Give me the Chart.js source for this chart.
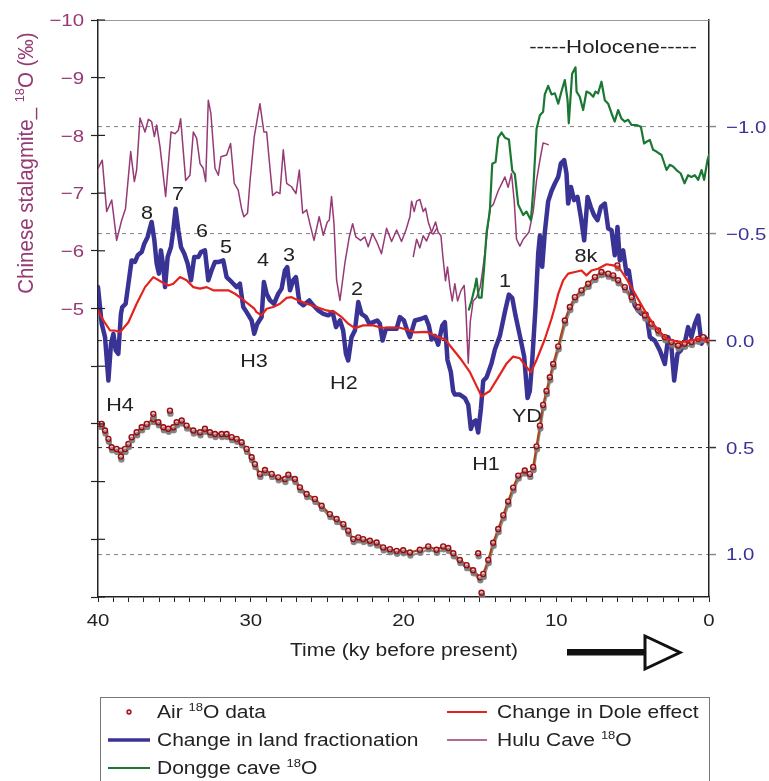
<!DOCTYPE html>
<html>
<head>
<meta charset="utf-8">
<script src="https://cdn.jsdelivr.net/npm/chart.js@4"></script>
<style>
  html, body { margin: 0; padding: 0; background: #fff; }
  #chart { display: block; }
</style>
</head>
<body>
<canvas id="chart" width="769" height="781"></canvas>
<script>
// ---- data (ky before present, per-mil) ----
const huluAge = [40.0, 39.72, 39.43, 39.1, 38.78, 38.45, 38.2, 37.86, 37.62, 37.47, 37.25, 36.92, 36.7, 36.49, 36.31, 36.16,
  35.94, 35.57, 35.22, 34.96, 34.74, 34.59, 34.26, 33.98, 33.76, 33.54, 33.32, 33.11, 32.95, 32.78, 32.61, 32.34, 32.12,
  31.95, 31.58, 31.32, 31.08, 30.82, 30.6, 30.45, 30.21, 30.05, 29.77, 29.4, 29.14, 28.96, 28.79, 28.57, 28.31, 28.09,
  27.87, 27.65, 27.33, 27.04, 26.82, 26.6, 26.34, 26.13, 25.86, 25.52, 25.25, 24.99, 24.86, 24.71, 24.55, 24.38, 24.16,
  23.84, 23.55, 23.33, 23.12, 22.81, 22.53, 22.31, 22.03, 21.76, 21.44, 21.11, 20.78, 20.45, 20.13, 19.84, 19.58, 19.47,
  19.3, 19.14, 18.93, 18.71, 18.56, 18.38, 18.16, 17.9, 17.73, 17.55, 17.4, 17.25, 17.12, 16.96, 16.81, 16.64, 16.46,
  16.24, 16.03, 15.92, 15.76, 15.63, 15.44, 15.22, 14.98, 14.85, 14.67, 14.35, 14.13, 13.8, 13.58, 13.36, 13.15, 12.93,
  12.75, 12.6, 12.38, 12.16, 11.79, 11.51, 11.29, 11.07, 10.86, 10.53];
const huluD18O = [-7.43, -7.57, -6.68, -6.88, -6.18, -6.53, -6.73, -7.72, -7.2, -7.4, -8.3, -8.06, -8.28, -8.24, -7.98, -8.18,
  -7.8, -6.94, -8.06, -8.03, -8.09, -8.29, -7.22, -7.31, -8.06, -7.95, -7.51, -7.43, -7.2, -8.61, -8.38, -7.43, -7.31,
  -7.63, -7.66, -7.86, -7.17, -7.05, -6.73, -6.59, -6.65, -7.2, -7.98, -8.55, -8.06, -8.06, -7.57, -6.96, -7.02, -6.99,
  -7.75, -7.17, -7.11, -6.99, -7.4, -6.65, -6.71, -6.47, -6.18, -6.59, -6.27, -6.5, -6.53, -6.94, -6.47, -5.49, -5.14,
  -5.78, -6.24, -6.47, -6.24, -6.18, -6.24, -6.07, -6.3, -6.16, -5.95, -6.39, -6.16, -6.36, -6.16, -6.36, -6.59, -6.86,
  -6.68, -6.86, -6.89, -6.68, -6.74, -6.5, -6.32, -6.5, -6.32, -6.26, -5.84, -5.48, -5.72, -5.37, -5.13, -5.43, -5.13,
  -5.31, -5.4, -5.01, -4.05, -4.77, -5.13, -5.19, -5.37, -5.6, -5.96, -6.74, -6.8, -7.04, -7.16, -7.28, -7.1, -7.34,
  -6.86, -6.2, -6.08, -6.2, -6.32, -6.68, -7.22, -7.57, -7.87, -7.84];
const huluAgeB = [19.36, 19.14, 18.93, 18.71, 18.49, 18.27, 18.05, 17.84];
const huluD18OB = [-5.9, -6.2, -6.05, -6.26, -6.17, -6.32, -6.29, -6.38];

const donggeAge = [15.72, 15.55, 15.33, 15.22, 15.07, 14.89, 14.72, 14.56, 14.35, 14.19, 13.97, 13.8, 13.58, 13.36, 13.1,
  12.88, 12.71, 12.49, 12.16, 11.95, 11.66, 11.51, 11.29, 11.07, 10.86, 10.75, 10.53, 10.31, 10.09, 9.87, 9.66, 9.44,
  9.26, 9.18, 8.96, 8.74, 8.67, 8.46, 8.24, 8.02, 7.8, 7.58, 7.43, 7.26, 7.04, 6.82, 6.6, 6.38, 6.17, 5.95, 5.73, 5.51,
  5.29, 5.07, 4.75, 4.46, 4.25, 4.09, 3.87, 3.66, 3.44, 3.11, 2.78, 2.57, 2.35, 2.13, 1.85, 1.6, 1.37, 1.15, 0.93, 0.71,
  0.49, 0.32, 0.1, 0.0];
const donggeD18O = [-4.98, -5.13, -5.37, -5.52, -5.19, -5.19, -5.72, -6.32, -6.68, -7.51, -7.54, -7.96, -8.05, -7.96, -7.93,
  -7.39, -7.33, -6.8, -6.62, -6.68, -6.53, -7.04, -8.11, -8.35, -8.41, -8.71, -8.86, -8.71, -8.73, -8.55, -8.76, -8.96,
  -8.61, -8.21, -9.07, -9.18, -8.76, -8.67, -8.44, -8.76, -8.73, -8.67, -8.76, -8.73, -8.93, -8.61, -8.55, -8.38, -8.24,
  -8.44, -8.29, -8.24, -8.27, -8.18, -8.18, -8.15, -7.86, -7.89, -7.92, -7.75, -7.72, -7.66, -7.4, -7.49, -7.46, -7.4,
  -7.34, -7.17, -7.31, -7.28, -7.31, -7.23, -7.4, -7.23, -7.57, -7.66];

const landAge = [40.0, 39.76, 39.54, 39.32, 39.15, 38.99, 38.84, 38.67, 38.5, 38.41, 38.19, 38.01, 37.8, 37.58, 37.4, 37.14,
  36.97, 36.75, 36.64, 36.49, 36.31, 36.16, 36.01, 35.88, 35.72, 35.61, 35.44, 35.22, 35.07, 34.92, 34.74, 34.57, 34.35,
  34.13, 33.91, 33.7, 33.43, 33.26, 33.0, 32.78, 32.56, 32.34, 32.08, 31.8, 31.58, 31.36, 31.14, 30.92, 30.71, 30.49,
  30.27, 29.94, 29.77, 29.57, 29.29, 29.14, 28.96, 28.74, 28.48, 28.2, 27.98, 27.76, 27.61, 27.43, 27.22, 27.04, 26.82,
  26.56, 26.17, 25.91, 25.58, 25.25, 24.93, 24.64, 24.42, 24.16, 23.95, 23.77, 23.62, 23.4, 23.18, 22.96, 22.75, 22.46,
  22.24, 21.98, 21.72, 21.55, 21.37, 21.15, 20.89, 20.45, 20.24, 19.97, 19.76, 19.58, 19.25, 18.82, 18.56, 18.34, 18.16,
  17.94, 17.73, 17.46, 17.29, 17.12, 16.9, 16.75, 16.64, 16.31, 15.98, 15.76, 15.59, 15.44, 15.28, 15.11, 14.93, 14.78,
  14.56, 14.24, 14.02, 13.69, 13.36, 13.1, 12.88, 12.67, 12.38, 12.1, 11.88, 11.73, 11.57, 11.36, 11.18, 11.07, 10.92,
  10.75, 10.53, 10.31, 10.09, 9.87, 9.7, 9.48, 9.33, 9.22, 9.04, 8.83, 8.61, 8.39, 8.17, 7.95, 7.74, 7.52, 7.3, 7.08,
  6.82, 6.6, 6.38, 6.17, 5.99, 5.84, 5.62, 5.4, 5.25, 5.03, 4.86, 4.64, 4.42, 4.09, 3.87, 3.55, 3.22, 2.89, 2.67, 2.46,
  2.28, 2.06, 1.85, 1.6, 1.37, 1.15, 0.93, 0.71, 0.49, 0.28, 0.1, 0.0];
const landFrac = [-0.25, -0.08, -0.016, 0.187, 0.015, -0.032, 0.046, 0.062, -0.125, -0.157, -0.172, -0.266, -0.375, -0.368,
  -0.399, -0.414, -0.453, -0.485, -0.516, -0.555, -0.469, -0.36, -0.313, -0.422, -0.344, -0.25, -0.391, -0.438, -0.516,
  -0.617, -0.516, -0.438, -0.406, -0.36, -0.282, -0.391, -0.391, -0.414, -0.422, -0.282, -0.329, -0.368, -0.368, -0.375,
  -0.297, -0.282, -0.266, -0.25, -0.266, -0.157, -0.133, -0.094, -0.032, -0.079, -0.11, -0.274, -0.219, -0.188, -0.172,
  -0.219, -0.243, -0.329, -0.344, -0.235, -0.282, -0.297, -0.18, -0.165, -0.188, -0.165, -0.141, -0.125, -0.118, -0.133,
  -0.063, -0.094, -0.047, 0.062, 0.093, -0.016, -0.047, -0.18, -0.125, -0.11, -0.079, -0.086, -0.094, -0.079, 0.0,
  -0.055, -0.055, -0.055, -0.11, -0.094, -0.047, -0.016, -0.094, -0.102, -0.11, -0.07, -0.005, -0.022, 0.019, -0.07,
  -0.086, 0.091, 0.148, 0.236, 0.253, 0.253, 0.269, 0.301, 0.414, 0.382, 0.374, 0.43, 0.317, 0.188, 0.172, 0.107, 0.043,
  -0.022, -0.135, -0.215, -0.199, -0.118, -0.022, 0.075, 0.269, 0.236, 0.091, -0.151, -0.409, -0.49, -0.345, -0.506,
  -0.651, -0.7, -0.735, -0.766, -0.828, -0.844, -0.782, -0.641, -0.719, -0.657, -0.672, -0.578, -0.469, -0.672, -0.625,
  -0.586, -0.563, -0.625, -0.641, -0.524, -0.516, -0.399, -0.531, -0.375, -0.422, -0.313, -0.328, -0.219, -0.164, -0.141,
  -0.125, -0.125, -0.016, 0.0, 0.046, 0.109, -0.016, 0.031, 0.187, 0.062, 0.046, 0.015, -0.063, -0.016, -0.078, -0.117,
  0.015, -0.016, 0.0, -0.008];

const doleAge = [40.0, 39.65, 39.21, 38.89, 38.56, 38.01, 37.47, 36.92, 36.38, 35.83, 35.4, 35.07, 34.63, 34.2, 33.76, 33.32,
  32.89, 32.45, 32.02, 31.47, 31.03, 30.6, 30.16, 29.77, 29.62, 29.29, 28.96, 28.53, 28.09, 27.65, 27.33, 26.89, 26.34,
  25.69, 25.04, 24.49, 24.05, 23.62, 23.18, 22.64, 21.98, 21.44, 20.89, 20.24, 19.58, 19.25, 18.49, 17.94, 17.29, 16.74,
  16.2, 15.65, 15.22, 14.89, 14.35, 13.8, 13.25, 12.82, 12.38, 11.95, 11.66, 11.29, 10.75, 10.31, 10.09, 9.87, 9.55,
  9.22, 8.78, 8.35, 8.02, 7.69, 7.26, 6.71, 6.27, 5.84, 5.4, 4.97, 4.53, 4.09, 3.66, 3.22, 2.78, 2.35, 1.8, 1.26, 0.71, 0.0];
const doleChange = [-0.141, -0.094, -0.047, -0.047, -0.039, -0.086, -0.172, -0.25, -0.297, -0.274, -0.258, -0.266, -0.297,
  -0.282, -0.25, -0.243, -0.25, -0.235, -0.235, -0.235, -0.219, -0.196, -0.172, -0.149, -0.133, -0.118, -0.149, -0.157,
  -0.172, -0.2, -0.203, -0.188, -0.172, -0.157, -0.141, -0.133, -0.11, -0.079, -0.058, -0.071, -0.071, -0.06, -0.06,
  -0.06, -0.047, -0.038, -0.041, -0.022, -0.006, 0.043, 0.091, 0.148, 0.212, 0.261, 0.236, 0.172, 0.107, 0.075, 0.083,
  0.124, 0.148, 0.091, -0.006, -0.102, -0.157, -0.219, -0.282, -0.313, -0.321, -0.328, -0.305, -0.328, -0.336, -0.357,
  -0.352, -0.336, -0.289, -0.235, -0.18, -0.125, -0.079, -0.04, -0.008, 0.0, 0.007, 0.0, -0.008, 0.0];

const airAge = [40.0, 39.76, 39.54, 39.32, 39.11, 38.78, 38.5, 38.23, 38.01, 37.8, 37.47, 37.14, 36.81, 36.38, 36.05, 35.72,
  35.4, 35.07, 34.85, 34.52, 34.2, 33.76, 33.32, 33.0, 32.67, 32.34, 31.91, 31.58, 31.25, 30.92, 30.6, 30.27, 29.94,
  29.73, 29.4, 29.07, 28.63, 28.2, 27.76, 27.54, 27.11, 26.78, 26.34, 25.8, 25.36, 24.82, 24.38, 23.94, 23.62, 23.29,
  22.96, 22.64, 22.2, 21.76, 21.33, 20.89, 20.45, 20.02, 19.58, 18.93, 18.38, 17.84, 17.4, 17.07, 16.74, 16.31, 15.87,
  15.44, 15.0, 14.78, 14.45, 14.13, 13.8, 13.47, 13.15, 12.82, 12.49, 12.06, 11.73, 11.51, 11.29, 11.07, 10.86, 10.64,
  10.42, 10.2, 9.87, 9.44, 9.11, 8.78, 8.35, 7.91, 7.47, 7.04, 6.6, 6.27, 5.95, 5.51, 5.07, 4.64, 4.2, 3.77, 3.33, 2.89,
  2.46, 2.02, 1.6, 1.15, 0.71, 0.38, 0.0];
const airD18O = [0.39, 0.39, 0.421, 0.46, 0.499, 0.507, 0.515, 0.507, 0.484, 0.452, 0.429, 0.406, 0.39, 0.367, 0.382, 0.406,
  0.413, 0.406, 0.382, 0.374, 0.398, 0.421, 0.429, 0.413, 0.429, 0.437, 0.437, 0.437, 0.452, 0.46, 0.476, 0.507, 0.546,
  0.578, 0.624, 0.606, 0.624, 0.64, 0.648, 0.628, 0.648, 0.687, 0.718, 0.741, 0.773, 0.812, 0.835, 0.859, 0.89, 0.929,
  0.921, 0.929, 0.937, 0.945, 0.968, 0.976, 0.984, 0.981, 0.992, 0.979, 0.963, 0.979, 0.963, 0.971, 0.995, 1.027, 1.051,
  1.075, 1.108, 1.092, 1.027, 0.946, 0.882, 0.817, 0.753, 0.688, 0.632, 0.608, 0.624, 0.592, 0.495, 0.398, 0.301, 0.236,
  0.172, 0.11, 0.027, -0.094, -0.157, -0.203, -0.235, -0.266, -0.297, -0.321, -0.313, -0.305, -0.282, -0.25, -0.203,
  -0.157, -0.117, -0.079, -0.047, -0.016, 0.007, 0.023, 0.015, 0.007, -0.008, -0.016, 0.0];
const airOutAge = [38.5, 36.38, 35.29, 15.11, 14.89, 6.0];
const airOutD18O = [0.543, 0.343, 0.328, 0.995, 1.18, -0.352];

const xLabels = [40, 30, 20, 10, 0];
const leftTicks = [-10, -9, -8, -7, -6, -5, -4, -3, -2, -1, 0];
const leftLabels = [-10, -9, -8, -7, -6, -5];
const rightTicks = [-1.0, -0.5, 0.0, 0.5, 1.0];

// ---- styling helpers ----
const SX = 1.2; // the figure's type is drawn a little wide
const FONT = '"Liberation Sans", Arial, sans-serif';
const PURPLE = '#963a76';
const BLUE = '#3a3396';

function pts(xs, ys) { return xs.map((x, i) => ({ x: x, y: ys[i] })); }
function minus(v, digits) {
  const s = Math.abs(v).toFixed(digits);
  return v < 0 ? '\u2212' + s : s;
}
// 'Air ^18^O data' -> runs with superscript parts
function runs(str) {
  return str.split('^').map((t, i) => ({ t: t, sup: i % 2 === 1 }));
}
function drawText(ctx, str, x, y, size, color, align, rotated) {
  const parts = runs(str);
  ctx.save();
  ctx.translate(x, y);
  if (rotated) { ctx.rotate(-Math.PI / 2); ctx.scale(1, 1.06); }
  else ctx.scale(SX, 1);
  ctx.fillStyle = color;
  ctx.textAlign = 'left';
  ctx.textBaseline = 'alphabetic';
  let w = 0;
  parts.forEach(p => { ctx.font = (p.sup ? size * 0.62 : size) + 'px ' + FONT; w += ctx.measureText(p.t).width; });
  let cx = align === 'center' ? -w / 2 : align === 'right' ? -w : 0;
  const base = rotated ? 0 : size * 0.36;
  parts.forEach(p => {
    ctx.font = (p.sup ? size * 0.62 : size) + 'px ' + FONT;
    ctx.fillText(p.t, cx, base + (p.sup ? -size * 0.4 : 0));
    cx += ctx.measureText(p.t).width;
  });
  ctx.restore();
}

const lineBase = { pointRadius: 0, tension: 0, borderJoinStyle: 'round', borderCapStyle: 'round', fill: false };
const airPoint = { pointRadius: 2.5, pointBorderWidth: 1.4, pointBorderColor: '#990c12', pointBackgroundColor: '#efc4c4', shadow: true };

// index 0 is drawn on top
const datasets = [
  { ...lineBase, label: 'Change in Dole effect', data: pts(doleAge, doleChange), yAxisID: 'yR', borderColor: '#e4221d', borderWidth: 2.2 },
  { ...airPoint, label: 'Air outliers', data: pts(airOutAge, airOutD18O), yAxisID: 'yR', showLine: false },
  { ...airPoint, label: 'Air ^18^O data', data: pts(airAge, airD18O), yAxisID: 'yR', borderColor: '#a8461a', borderWidth: 2.2, tension: 0 },
  { ...lineBase, label: 'Change in land fractionation', data: pts(landAge, landFrac), yAxisID: 'yR', borderColor: BLUE, borderWidth: 4.5 },
  { ...lineBase, label: 'Dongge cave ^18^O', data: pts(donggeAge, donggeD18O), yAxisID: 'yL', borderColor: '#1b7833', borderWidth: 2.2 },
  { ...lineBase, label: 'Hulu Cave ^18^O', data: pts(huluAge, huluD18O), yAxisID: 'yL', borderColor: PURPLE, borderWidth: 1.5 },
  { ...lineBase, label: 'Hulu Cave b', data: pts(huluAgeB, huluD18OB), yAxisID: 'yL', borderColor: PURPLE, borderWidth: 1.5 }
];

// grey drop shadow under the air 18O dots
const airShadow = {
  id: 'airShadow',
  beforeDatasetDraw(chart, args) {
    if (!chart.data.datasets[args.index].shadow) return;
    const ctx = chart.ctx;
    ctx.save();
    ctx.shadowColor = 'rgba(125,125,125,0.85)';
    ctx.shadowOffsetX = 0.5;
    ctx.shadowOffsetY = 3;
    ctx.shadowBlur = 0.5;
  },
  afterDatasetDraw(chart, args) {
    if (chart.data.datasets[args.index].shadow) chart.ctx.restore();
  }
};

const events = [
  ['8', 36.79, -0.6], ['7', 34.76, -0.69], ['6', 33.19, -0.516], ['5', 31.62, -0.44], ['4', 29.2, -0.38],
  ['3', 27.5, -0.403], ['2', 23.05, -0.244], ['1', 13.36, -0.282], ['8k', 8.06, -0.4], ['H4', 38.56, 0.3],
  ['H3', 29.79, 0.093], ['H2', 23.9, 0.196], ['H1', 14.6, 0.576], ['YD', 11.92, 0.351]
];

const legendItems = [
  { ds: 2, col: 0, row: 0 }, { ds: 0, col: 1, row: 0 },
  { ds: 3, col: 0, row: 1 }, { ds: 5, col: 1, row: 1 },
  { ds: 4, col: 0, row: 2 }
];

const decor = {
  id: 'decor',
  afterDraw(chart) {
    const ctx = chart.ctx;
    const a = chart.chartArea;
    const sx = chart.scales.x, yl = chart.scales.yL, yr = chart.scales.yR;

    // top frame line
    ctx.save();
    ctx.strokeStyle = '#999';
    ctx.lineWidth = 1.2;
    ctx.beginPath(); ctx.moveTo(a.left, a.top + 0.5); ctx.lineTo(a.right, a.top + 0.5); ctx.stroke();
    // left ticks also reach inside
    ctx.strokeStyle = '#222';
    ctx.lineWidth = 1.2;
    leftTicks.forEach(v => {
      const y = yl.getPixelForValue(v);
      ctx.beginPath(); ctx.moveTo(a.left, y); ctx.lineTo(a.left + 7, y); ctx.stroke();
    });
    ctx.restore();

    // tick labels
    leftLabels.forEach(v => drawText(ctx, minus(v, 0), 84, yl.getPixelForValue(v), 17, PURPLE, 'right'));
    rightTicks.forEach(v => drawText(ctx, minus(v, 1), 726, yr.getPixelForValue(v), 17, BLUE, 'left'));
    xLabels.forEach(v => drawText(ctx, String(v), sx.getPixelForValue(v), 620, 17, '#222', 'center'));

    // event labels
    events.forEach(e => drawText(ctx, e[0], sx.getPixelForValue(e[1]), yr.getPixelForValue(e[2]), 18, '#222', 'center'));
    drawText(ctx, '-----Holocene-----', 613, 46, 18.5, '#222', 'center');

    // axis titles
    drawText(ctx, 'Chinese stalagmite_ ^18^O (\u2030)', 33, 163, 20.5, PURPLE, 'center', true);
    drawText(ctx, 'Time (ky before present)', 404, 650, 17.5, '#222', 'center');

    // arrow toward the present
    ctx.save();
    ctx.fillStyle = '#111';
    ctx.fillRect(567, 649, 78, 6.5);
    ctx.beginPath();
    ctx.moveTo(645, 636); ctx.lineTo(645, 669); ctx.lineTo(680, 652.5); ctx.closePath();
    ctx.fillStyle = '#fff'; ctx.fill();
    ctx.lineWidth = 3; ctx.strokeStyle = '#111'; ctx.lineJoin = 'miter'; ctx.stroke();
    ctx.restore();

    // legend
    ctx.save();
    ctx.strokeStyle = '#777';
    ctx.lineWidth = 1;
    ctx.strokeRect(100.5, 697.5, 609, 120);
    ctx.restore();
    const cols = [{ x0: 108, x1: 150, tx: 157 }, { x0: 447, x1: 487, tx: 497 }];
    const rows = [712, 740, 768];
    legendItems.forEach(it => {
      const ds = chart.data.datasets[it.ds];
      const c = cols[it.col], y = rows[it.row];
      ctx.save();
      if (ds.showLine === false || ds.pointRadius > 0) {
        ctx.beginPath();
        ctx.arc(129, y, 2, 0, Math.PI * 2);
        ctx.fillStyle = ds.pointBackgroundColor; ctx.fill();
        ctx.lineWidth = 1.3; ctx.strokeStyle = ds.pointBorderColor; ctx.stroke();
      } else {
        ctx.strokeStyle = ds.borderColor;
        ctx.lineWidth = Math.min(ds.borderWidth, 3.5);
        ctx.beginPath(); ctx.moveTo(c.x0, y); ctx.lineTo(c.x1, y); ctx.stroke();
      }
      ctx.restore();
      drawText(ctx, ds.label, c.tx, y, 17.5, '#222', 'left');
    });
  }
};

new Chart(document.getElementById('chart'), {
  type: 'line',
  data: { datasets: datasets },
  options: {
    responsive: false,
    animation: false,
    devicePixelRatio: 1,
    layout: { padding: { top: 20, left: 0, right: 0, bottom: 0 } },
    plugins: { legend: { display: false }, tooltip: { enabled: false } },
    scales: {
      x: {
        type: 'linear', position: 'bottom', min: 0, max: 40, reverse: true,
        ticks: { display: false, stepSize: 1 },
        grid: { drawOnChartArea: false, tickLength: 5, tickColor: '#222', tickWidth: 1 },
        border: { color: '#222', width: 1.5 },
        afterFit: s => { s.height = 184; }
      },
      yL: {
        type: 'linear', position: 'left', min: -10, max: 0, reverse: true,
        ticks: { display: false },
        afterBuildTicks: s => { s.ticks = leftTicks.map(v => ({ value: v })); },
        grid: { drawOnChartArea: false, tickLength: 7, tickColor: '#222', tickWidth: 1.2 },
        border: { color: '#222', width: 1.5 },
        afterFit: s => { s.width = 98; }
      },
      yR: {
        type: 'linear', position: 'right', min: -1.5, max: 1.2, reverse: true,
        ticks: { display: false },
        afterBuildTicks: s => { s.ticks = rightTicks.map(v => ({ value: v })); },
        grid: {
          drawOnChartArea: true,
          color: c => (c.tick && (c.tick.value === 0 || c.tick.value === 0.5)) ? '#333' : '#8c8c8c',
          tickColor: c => (c.tick && (c.tick.value === 0 || c.tick.value === 0.5)) ? '#333' : '#8c8c8c',
          lineWidth: 1.1, tickLength: 7, tickWidth: 1.5
        },
        border: { color: '#222', width: 1.5, dash: [4, 4] },
        afterFit: s => { s.width = 60; }
      }
    }
  },
  plugins: [airShadow, decor]
});
</script>
</body>
</html>
